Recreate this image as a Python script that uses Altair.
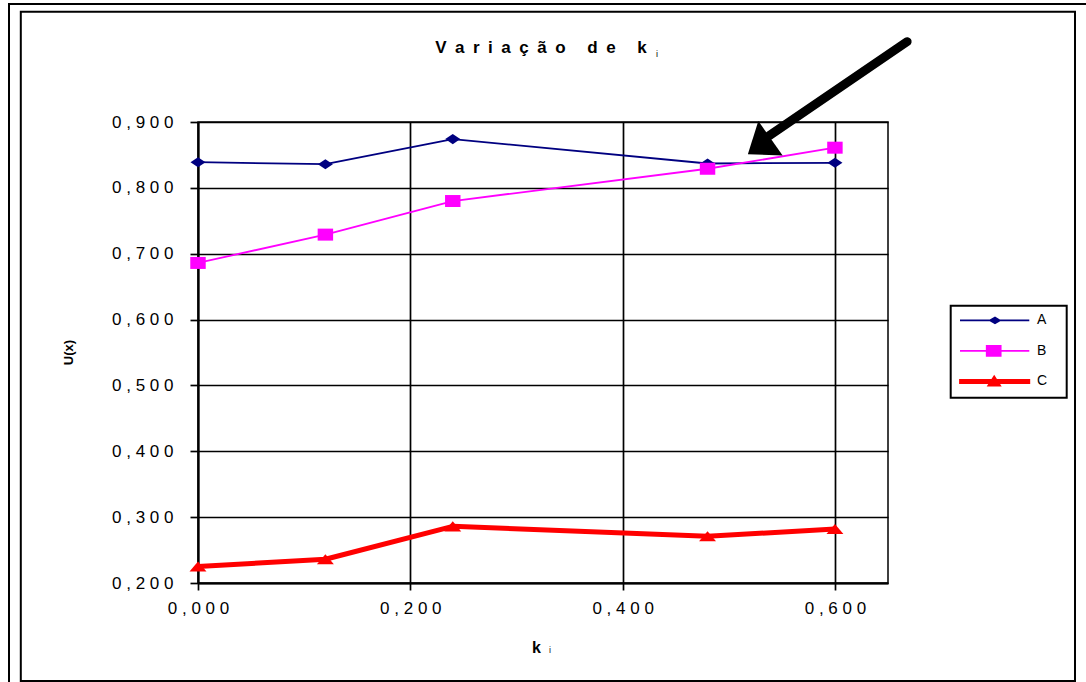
import altair as alt
import pandas as pd

# ---------------- data ----------------
k_values = [0.0, 0.12, 0.24, 0.48, 0.6]
series_names = ["A", "B", "C"]
u_A = [0.839, 0.836, 0.874, 0.837, 0.838]
u_B = [0.686, 0.729, 0.780, 0.829, 0.861]
u_C = [0.225, 0.236, 0.286, 0.271, 0.282]
x_ticks = [0.0, 0.2, 0.4, 0.6]
y_ticks = [0.2, 0.3, 0.4, 0.5, 0.6, 0.7, 0.8, 0.9]

# arrow annotation (data coordinates)
arrow_shaft_x = [0.668, 0.538]
arrow_shaft_y = [1.022, 0.879]
arrow_tip_x = [0.518]
arrow_tip_y = [0.851]

# ---------------- styles ----------------
colors = ["#000080", "#FF00FF", "#FF0000"]
line_widths = {"A": 1.8, "B": 1.8, "C": 5}
marker_paths = {
    "A": "M-1,0L0,-0.667L1,0L0,0.667Z",
    "B": "M-1.03,-0.8H1.03V0.8H-1.03Z",
    "C": "M-1.13,0.67L0,-0.67L1.13,0.67Z",
}
# every legend symbol gets the same extent (moveTo points) so rows are even and the box is wide enough
EXTENT = "M0,-1.0M0,1.0M18,0"
legend_paths = [
    EXTENT + "M-1.08,0H12.78M4.97,0L5.92,-0.56L6.87,0L5.92,0.56Z",
    EXTENT + "M-1.08,0H12.78M4.27,-0.99H7.05V0.99H4.27Z",
    EXTENT + "M-1.08,-0.32H12.78V0.32H-1.08ZM4.59,0.82L5.76,-1.0L6.93,0.82Z",
]
NB = "\u00a0"
EN = "\u2002"
FONT = "Liberation Sans"

rows = []
for name, vals in zip(series_names, [u_A, u_B, u_C]):
    for k, v in zip(k_values, vals):
        rows.append({"k": k, "U": v, "serie": name})
df = pd.DataFrame(rows)

x_scale = alt.Scale(domain=[0, 0.65], nice=False, zero=False)
y_scale = alt.Scale(domain=[0.2, 0.9], nice=False, zero=False)
fill_scale = alt.Scale(domain=series_names, range=colors)
stroke_scale = alt.Scale(domain=series_names, range=colors)
shape_scale = alt.Scale(domain=series_names, range=legend_paths)

label_expr = f"join(split(replace(format(datum.value, '.3f'), '.', ','), ''), '{NB}')"

x_enc = alt.X(
    "k:Q", scale=x_scale,
    axis=alt.Axis(
        values=x_ticks, labelExpr=label_expr, title="k", labelFlush=False,
        titleFont=FONT, titleFontSize=16, titleFontWeight="bold", titleColor="black",
        titleX=338, titleY=69, titleAlign="center", titleBaseline="alphabetic",
        tickSize=7, labelPadding=10.5,
    ),
)
y_enc = alt.Y(
    "U:Q", scale=y_scale,
    axis=alt.Axis(
        values=y_ticks, labelExpr=label_expr, title="U(x)",
        titleFont=FONT, titleFontSize=13, titleFontWeight="bold", titleColor="black",
        titleX=-130, titleY=230, titleAlign="center", titleBaseline="middle", titleAngle=270,
        tickSize=8, labelPadding=17,
    ),
)

legend = alt.Legend(
    title=None, orient="none", legendX=752.7, legendY=183.7,
    padding=7.7, rowPadding=12.5, strokeColor="black", fillColor="white",
    labelFont=FONT, labelFontSize=14, labelColor="black", labelOffset=64.6,
    symbolSize=100, symbolOpacity=1, symbolStrokeWidth=1.8,
)

base = alt.Chart(df)

line_layers = []
for i, name in enumerate(series_names):
    line_layers.append(
        base.transform_filter(alt.datum.serie == name).mark_line(
            strokeJoin="round", strokeWidth=line_widths[name]
        ).encode(
            x=x_enc if i == 0 else alt.X("k:Q", scale=x_scale),
            y=y_enc if i == 0 else alt.Y("U:Q", scale=y_scale),
            stroke=alt.Stroke("serie:N", scale=stroke_scale, legend=legend),
        )
    )

point_layers = []
for name in series_names:
    point_layers.append(
        base.transform_filter(alt.datum.serie == name).mark_point(
            filled=True, opacity=1, size=225, strokeWidth=0, shape=marker_paths[name]
        ).encode(
            x=alt.X("k:Q", scale=x_scale),
            y=alt.Y("U:Q", scale=y_scale),
            fill=alt.Fill("serie:N", scale=fill_scale, legend=legend),
        )
    )

# empty layer that only carries the legend (line + marker symbols)
legend_carrier = base.transform_filter("false").mark_point(filled=True, opacity=1).encode(
    x=alt.X("k:Q", scale=x_scale),
    y=alt.Y("U:Q", scale=y_scale),
    fill=alt.Fill("serie:N", scale=fill_scale, legend=legend),
    stroke=alt.Stroke("serie:N", scale=stroke_scale, legend=legend),
    shape=alt.Shape("serie:N", scale=shape_scale, legend=legend),
)

one = pd.DataFrame({"d": [0]})

outer_border = alt.Chart(one).mark_rect(fill="white", fillOpacity=0, stroke="black", strokeWidth=2).encode(
    x=alt.value(-189), x2=alt.value(897), y=alt.value(-118), y2=alt.value(578)
)
inner_border = alt.Chart(one).mark_rect(fill="white", fillOpacity=0, stroke="black", strokeWidth=2).encode(
    x=alt.value(-177.2), x2=alt.value(877), y=alt.value(-110.2), y2=alt.value(559)
)

shaft = alt.Chart(pd.DataFrame({"x": arrow_shaft_x, "y": arrow_shaft_y})).mark_line(
    color="black", strokeWidth=9, strokeCap="round"
).encode(x=alt.X("x:Q", scale=x_scale), y=alt.Y("y:Q", scale=y_scale))

head = alt.Chart(pd.DataFrame({"x": arrow_tip_x, "y": arrow_tip_y})).mark_point(
    shape="M0,0L-0.76,1L0.76,1Z", angle=234.7, size=3069, filled=True, color="black", opacity=1, strokeWidth=0
).encode(x=alt.X("x:Q", scale=x_scale), y=alt.Y("y:Q", scale=y_scale))

title_text = EN.join("Variação") + EN * 2 + NB + EN.join("de") + EN * 2 + NB + "k"
title_mark = alt.Chart(one).mark_text(
    text=title_text, font=FONT, fontSize=17, fontWeight="bold", align="center", baseline="alphabetic", color="black"
).encode(x=alt.value(343), y=alt.value(-69))
title_sub = alt.Chart(one).mark_text(
    text="i", font=FONT, fontSize=9, align="left", baseline="alphabetic", color="black"
).encode(x=alt.value(458), y=alt.value(-65))
xtitle_sub = alt.Chart(one).mark_text(
    text="i", font=FONT, fontSize=9, align="left", baseline="alphabetic", color="#222222"
).encode(x=alt.value(351), y=alt.value(531))

chart = alt.layer(
    outer_border, inner_border, *line_layers, *point_layers, legend_carrier, shaft, head,
    title_mark, title_sub, xtitle_sub
).properties(
    width=690, height=461,
    autosize=alt.AutoSizeParams(type="none"),
    padding={"left": 198, "top": 122, "right": 198, "bottom": 99},
    background="white",
).configure_view(
    stroke="black", strokeWidth=1.5
).configure_axis(
    domainColor="black", domainWidth=2, tickColor="black", tickWidth=1.7,
    gridColor="black", gridWidth=1.7, grid=True,
    labelFont=FONT, labelFontSize=17, labelColor="black",
).configure_legend(
    strokeWidth=2
)

chart.save("out.html", embed_options={"renderer": "svg", "actions": False})
